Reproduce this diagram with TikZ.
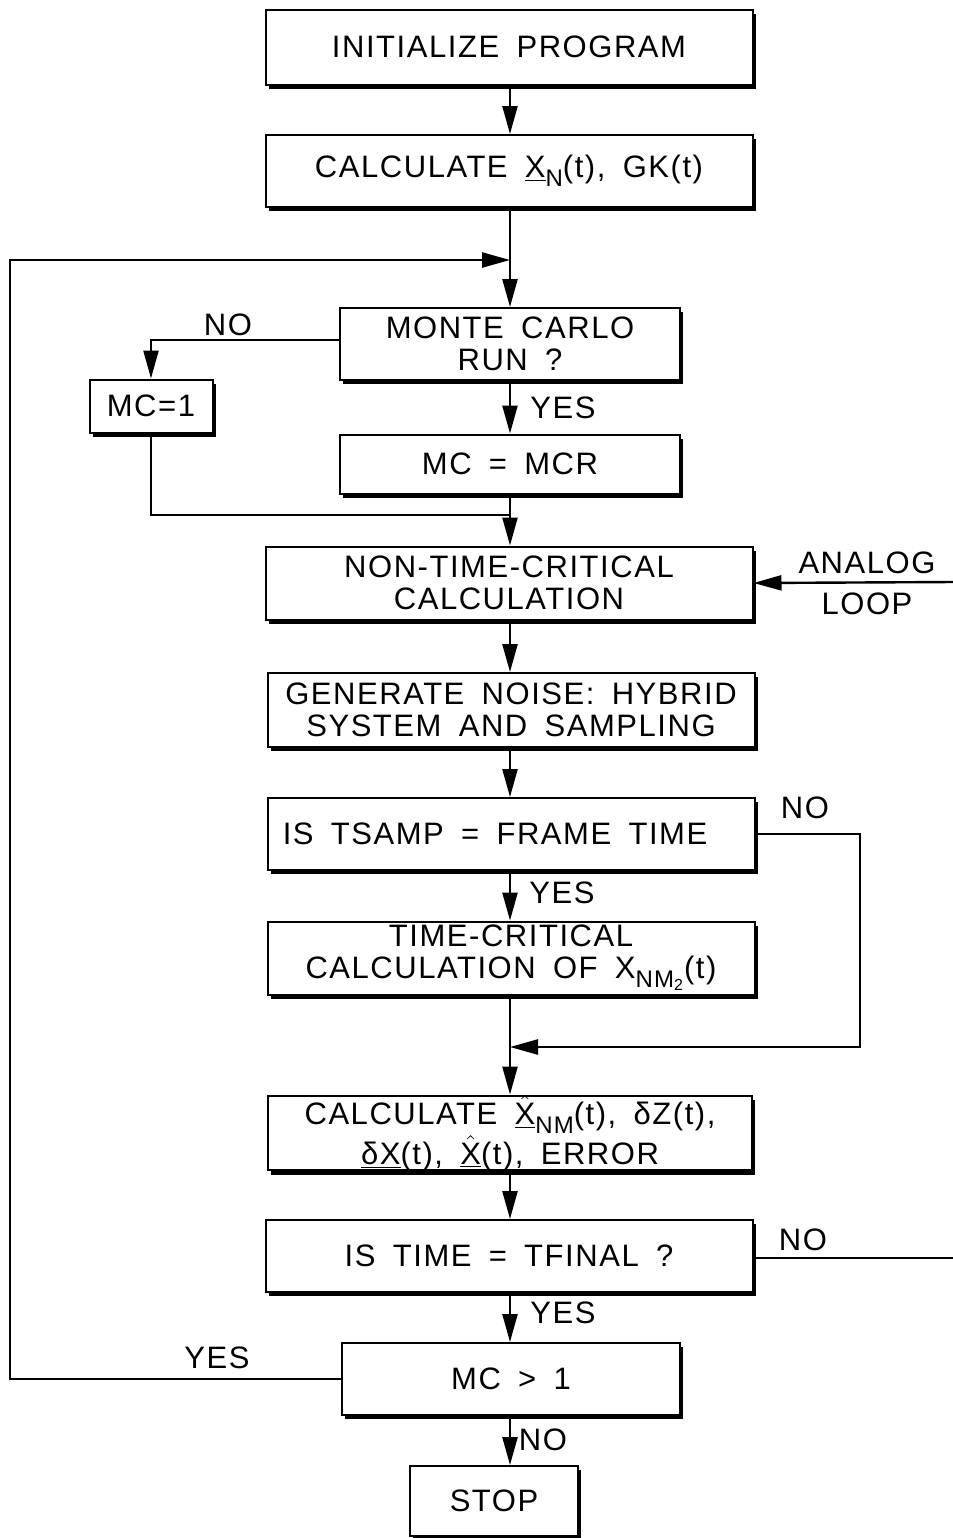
\documentclass[tikz,border=0pt]{standalone}
\usepackage{fontspec}
\setmainfont{Liberation Sans}[LetterSpace=5.0,WordSpace=1.7]
\usetikzlibrary{arrows.meta,shadows}
\newcommand{\lowsub}[1]{\raisebox{-0.28em}{\fontsize{12}{12}\selectfont #1}}
\begin{document}
\begin{tikzpicture}[x=0.5pt,y=-0.5pt,
  box/.style={draw, line width=1pt, fill=white, inner sep=0pt, align=center,
    font=\fontsize{15.5}{16}\selectfont,
    drop shadow={shadow xshift=1.6pt, shadow yshift=-2.2pt, fill=black, opacity=1}},
  lbl/.style={inner sep=0pt, font=\fontsize{15.5}{16}\selectfont},
  conn/.style={line width=1.2pt},
  arr/.style={conn, -{Triangle[length=14pt,width=7.5pt]}}]
\useasboundingbox (0,0) rectangle (953,1538);

% boxes
\node[box, minimum width=243.5pt, minimum height=37.5pt] (init) at (509,47) {INITIALIZE PROGRAM};
\node[box, minimum width=243.5pt, minimum height=36pt] (calc) at (509,171)
  {CALCULATE \underline{X}\lowsub{N}(t), GK(t)};
\node[box, minimum width=170pt, minimum height=36pt] (mcrun) at (510,344) {MONTE CARLO\\RUN ?};
\node[box, minimum width=61.5pt, minimum height=26.5pt] (mc1) at (151,406) {MC=1};
\node[box, minimum width=170pt, minimum height=29.5pt] (mcr) at (510,464) {MC = MCR};
\node[box, minimum width=243.5pt, minimum height=36.5pt] (ntc) at (509,583) {NON-TIME-CRITICAL\\CALCULATION};
\node[box, minimum width=243.5pt, minimum height=37pt] (gen) at (511,710) {GENERATE NOISE: HYBRID\\SYSTEM AND SAMPLING};
\node[box, minimum width=243.5pt, minimum height=36pt] (tsamp) at (511,834) {IS TSAMP = FRAME TIME\hspace{16pt}};
\node[box, minimum width=243.5pt, minimum height=36.5pt] (tcc) at (511,958)
  {TIME-CRITICAL\\CALCULATION OF X\lowsub{NM\textsubscript{2}}(t)};
\node[box, minimum width=242pt, minimum height=36.5pt, font=\fontsize{15.5}{18}\selectfont] (calc2) at (510,1133)
  {CALCULATE $\hat{\underline{\mbox{X}}}$\lowsub{NM}(t), δZ(t),\\
   \underline{δX}(t), $\hat{\underline{\mbox{X}}}$(t), ERROR};
\node[box, minimum width=243.5pt, minimum height=36pt] (tfinal) at (509,1256) {IS TIME = TFINAL ?};
\node[box, minimum width=169pt, minimum height=36pt] (mcgt) at (511,1379) {MC {\textgreater} 1};
\node[box, minimum width=84pt, minimum height=35pt] (stop) at (494,1501) {STOP};

% labels
\node[lbl] (no1) at (228,325) {NO};
\node[lbl] (yes1) at (563,408) {YES};
\node[lbl, align=center, font=\fontsize{15.5}{20.5}\selectfont] (analog) at (867,583) {ANALOG\\LOOP};
\node[lbl] (no2) at (805,808) {NO};
\node[lbl] (yes2) at (562,893) {YES};
\node[lbl] (no3) at (803,1240) {NO};
\node[lbl] (yes3) at (563,1313) {YES};
\node[lbl] (yes4) at (217,1358) {YES};
\node[lbl] (no4) at (543,1440) {NO};

% coordinates
\coordinate (j1) at (510,260);
\coordinate (j2) at (510,515);
\coordinate (j3) at (510,1047);
\coordinate (leftx) at (10,0);
\coordinate (aR) at (953,582);
\coordinate (tR) at (953,1258);
\coordinate (rx) at (860,0);

% connectors
\draw[arr] (init.south -| j1) -- (calc.north -| j1);
\draw[arr] (calc.south -| j1) -- (mcrun.north -| j1);
\draw[arr] (mcgt.west) -- (mcgt.west -| leftx) |- (j1);
\draw[arr] ([yshift=2pt]mcrun.west) -| (mc1.north);
\draw[arr] (mcrun.south -| j1) -- (mcr.north -| j1);
\draw[conn] (mc1.south) |- (j2);
\draw[arr] (mcr.south -| j1) -- (ntc.north -| j1);
\draw[arr] (aR) -- (ntc.east);
\draw[arr] (ntc.south -| j1) -- (gen.north -| j1);
\draw[arr] (gen.south -| j1) -- (tsamp.north -| j1);
\draw[arr] (tsamp.south -| j1) -- (tcc.north -| j1);
\draw[arr] (tsamp.east) -- (tsamp.east -| rx) |- (j3);
\draw[arr] (tcc.south -| j1) -- (calc2.north -| j1);
\draw[arr] (calc2.south -| j1) -- (tfinal.north -| j1);
\draw[conn] (tfinal.east |- tR) -- (tR);
\draw[arr] (tfinal.south -| j1) -- (mcgt.north -| j1);
\draw[arr] (mcgt.south -| j1) -- (stop.north -| j1);
\end{tikzpicture}
\end{document}
